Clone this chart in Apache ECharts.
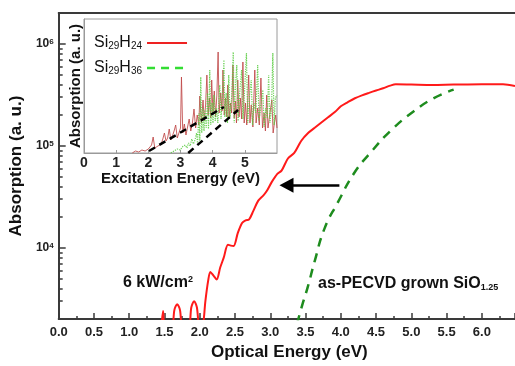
<!DOCTYPE html>
<html>
<head>
<meta charset="utf-8">
<script src="https://cdn.jsdelivr.net/npm/echarts@6/dist/echarts.min.js"></script>
<style>
html, body { margin: 0; padding: 0; background: #fff; }
#chart-container { width: 515px; height: 366px; }
</style>
</head>
<body>
<div id="chart-container"></div>
<script>
// main panel: [optical energy (eV), absorption (a. u.)]
const laserCurve = [
    [1.45, 1500], [1.48, 2400], [1.51, 1500],
    [1.6, 1500], [1.64, 2450], [1.68, 2800], [1.72, 2450], [1.76, 1500],
    [1.84, 1500], [1.88, 2600], [1.92, 3000], [1.96, 2600], [2.0, 1500],
    [2.04, 1600], [2.08, 3000], [2.12, 4800], [2.15, 5800], [2.19, 5400],
    [2.24, 4900], [2.29, 6400], [2.34, 8000], [2.4, 10700], [2.44, 10500],
    [2.48, 10400], [2.54, 14000], [2.6, 17500], [2.65, 18600], [2.7, 19000],
    [2.76, 23000], [2.83, 29000], [2.9, 32500], [2.95, 36000], [3.02, 44000],
    [3.1, 53000], [3.16, 57000], [3.25, 75000], [3.34, 85000], [3.44, 112000],
    [3.54, 134000], [3.63, 150000], [3.72, 168000], [3.82, 190000],
    [3.92, 215000], [4.0, 244000], [4.1, 268000], [4.2, 292000], [4.3, 312000],
    [4.4, 330000], [4.5, 348000], [4.6, 366000], [4.7, 388000], [4.78, 400000],
    [5.0, 398000], [5.3, 395000], [5.6, 398000], [6.0, 400000], [6.3, 400000],
    [6.47, 385000],
];
const pecvdCurve = [
    [3.38, 1800], [3.45, 2700], [3.53, 4100], [3.63, 7400], [3.77, 15500],
    [3.96, 28000], [4.19, 54000], [4.43, 87000], [4.71, 141000],
    [5.04, 219000], [5.32, 293000], [5.6, 355000],
];
const arrowFrom = [3.98, 41000];
const arrowTo = [3.23, 41000];

const yMajorTicks = [1e4, 1e5, 1e6];
const yMinorTicks = [
    3000, 4000, 5000, 6000, 7000, 8000, 9000,
    20000, 30000, 40000, 50000, 60000, 70000, 80000, 90000,
    200000, 300000, 400000, 500000, 600000, 700000, 800000, 900000,
];

// inset: [excitation energy (eV), absorption (a. u.)]
const insetNames = ["Si29H24", "Si29H36"];
const insetLabels = ["{n|Si}{s|29}{n|H}{s|24}", "{n|Si}{s|29}{n|H}{s|36}"];
const si29h24 = [
    [1.5, 0], [1.6, 2], [1.7, 1], [1.8, 3], [1.9, 2], [2.0, 4], [2.05, 3],
    [2.1, 8], [2.15, 16], [2.2, 5], [2.3, 7], [2.4, 9], [2.45, 14], [2.5, 20],
    [2.55, 12], [2.6, 15], [2.65, 24], [2.7, 13], [2.75, 17], [2.8, 22],
    [2.85, 28], [2.9, 15], [2.95, 20], [3.0, 25], [3.03, 76], [3.07, 20],
    [3.12, 29], [3.17, 18], [3.22, 26], [3.27, 34], [3.32, 22], [3.37, 30],
    [3.42, 44], [3.47, 25], [3.52, 38], [3.57, 28], [3.6, 57], [3.65, 30],
    [3.7, 53], [3.74, 32], [3.78, 48], [3.82, 78], [3.86, 38], [3.9, 55],
    [3.94, 35], [3.97, 73], [4.01, 40], [4.05, 62], [4.09, 36], [4.13, 58],
    [4.17, 101], [4.2, 40], [4.25, 60], [4.29, 42], [4.32, 83], [4.36, 38],
    [4.4, 55], [4.44, 36], [4.47, 68], [4.51, 34], [4.55, 50], [4.59, 40],
    [4.63, 88], [4.67, 35], [4.71, 52], [4.74, 30], [4.78, 73], [4.82, 36],
    [4.86, 55], [4.9, 34], [4.94, 91], [4.98, 30], [5.02, 50], [5.06, 28],
    [5.12, 78], [5.16, 30], [5.2, 48], [5.25, 26], [5.31, 83], [5.35, 30],
    [5.4, 45], [5.45, 28], [5.5, 75], [5.55, 25], [5.6, 40], [5.64, 22],
    [5.68, 58], [5.72, 25], [5.78, 40], [5.84, 53], [5.88, 20], [5.92, 30],
    [5.96, 38], [6.0, 25],
];
const si29h36 = [
    [2.7, 0], [2.8, 2], [2.9, 4], [3.0, 3], [3.05, 6], [3.1, 4], [3.15, 8],
    [3.2, 5], [3.25, 10], [3.3, 7], [3.35, 14], [3.4, 9], [3.45, 13], [3.5, 20],
    [3.53, 10], [3.57, 40], [3.6, 12], [3.63, 76], [3.66, 20], [3.7, 45],
    [3.73, 22], [3.76, 43], [3.8, 25], [3.84, 60], [3.87, 24], [3.91, 83],
    [3.94, 28], [3.98, 50], [4.01, 30], [4.04, 58], [4.08, 32], [4.12, 45],
    [4.16, 30], [4.22, 68], [4.26, 34], [4.3, 55], [4.35, 93], [4.38, 36],
    [4.42, 60], [4.46, 30], [4.5, 78], [4.54, 36], [4.59, 55], [4.64, 101],
    [4.67, 30], [4.71, 68], [4.75, 88], [4.79, 32], [4.84, 60], [4.9, 83],
    [4.94, 34], [4.98, 55], [5.05, 100], [5.09, 30], [5.14, 55], [5.2, 73],
    [5.24, 28], [5.29, 50], [5.34, 40], [5.4, 88], [5.44, 32], [5.5, 48],
    [5.56, 63], [5.6, 26], [5.65, 45], [5.7, 35], [5.74, 78], [5.78, 30],
    [5.83, 45], [5.87, 100], [5.91, 28], [5.95, 55], [6.0, 58],
];
const fitLine1 = [[2.02, 2], [4.35, 46]];
const fitLine2 = [[3.24, 0], [4.79, 43]];

const font = "'Liberation Sans', Arial, sans-serif";
const axisColor = "#3a3a3a";

let dom = document.getElementById("chart-container");
let myChart = echarts.init(dom, null, {
    renderer: "canvas",
    useDirtyRect: false,
});
let option;

option = {
    animation: false,
    backgroundColor: "#fff",
    textStyle: { fontFamily: font },
    grid: [
        { left: 56, top: 13, right: 0, bottom: 40 },
        {
            left: 84, top: 19, width: 193, height: 134,
            show: true, backgroundColor: "#fff", borderColor: "#9a9a9a", borderWidth: 1,
        },
    ],
    xAxis: [{
        type: "value",
        gridIndex: 0,
        min: 0,
        max: 6.47,
        interval: 0.5,
        name: "Optical Energy (eV)",
        nameLocation: "middle",
        nameGap: 22,
        nameTextStyle: { fontSize: 17, fontWeight: "bold", color: "#111", padding: [0, 0, 0, 5] },
        axisLine: { lineStyle: { color: axisColor, width: 2 } },
        axisTick: { inside: true, length: 6, lineStyle: { color: axisColor, width: 1.5 } },
        minorTick: { show: true, splitNumber: 2, length: 3, lineStyle: { color: axisColor, width: 1.5 } },
        axisLabel: {
            margin: 7, fontSize: 13, fontWeight: "bold", color: "#222",
            showMaxLabel: false,
            formatter: (v) => v.toFixed(1),
        },
        splitLine: { show: false },
    }, {
        type: "value",
        gridIndex: 0,
        position: "top",
        min: 0,
        max: 6.47,
        axisLine: { lineStyle: { color: axisColor, width: 2 } },
        axisTick: { show: false },
        axisLabel: { show: false },
        splitLine: { show: false },
    }, {
        type: "value",
        gridIndex: 1,
        min: 0,
        max: 6,
        interval: 1,
        name: "Excitation Energy (eV)",
        nameLocation: "middle",
        nameGap: 17,
        nameTextStyle: { fontSize: 15, fontWeight: "bold", color: "#111" },
        axisLine: { lineStyle: { color: "#9a9a9a", width: 1 } },
        axisTick: { inside: true, length: 3, lineStyle: { color: "#9a9a9a" } },
        axisLabel: { margin: 3, fontSize: 14, fontWeight: "bold", color: "#222", showMaxLabel: false },
        splitLine: { show: false },
    }],
    yAxis: [{
        type: "log",
        gridIndex: 0,
        min: 2000,
        max: 2000000,
        name: "Absorption (a. u.)",
        nameLocation: "middle",
        nameGap: 25,
        nameTextStyle: { fontSize: 17, fontWeight: "bold", color: "#111" },
        axisLine: { show: true, lineStyle: { color: axisColor, width: 2 } },
        axisTick: { inside: true, length: 7, lineStyle: { color: axisColor, width: 1.5 } },
        axisLabel: {
            margin: 5,
            showMinLabel: false,
            showMaxLabel: false,
            formatter: (v) => (yMajorTicks.indexOf(v) >= 0 ? "{b|10}{e|" + Math.round(Math.log10(v)) + "}" : ""),
            rich: {
                b: { fontSize: 12, fontWeight: "bold", color: "#222", lineHeight: 12, padding: [4, 0, 0, 0], verticalAlign: "bottom" },
                e: { fontSize: 8, fontWeight: "bold", color: "#222", lineHeight: 8, verticalAlign: "top" },
            },
        },
        splitLine: { show: false },
    }, {
        // minor log ticks (2..9 x 10^n), drawn on a linear axis in log10 space
        type: "value",
        gridIndex: 0,
        position: "left",
        min: Math.log10(2000),
        max: Math.log10(2000000),
        axisLine: { show: false },
        axisTick: {
            inside: true, length: 4,
            customValues: yMinorTicks.map((v) => Math.log10(v)),
            lineStyle: { color: axisColor, width: 1.5 },
        },
        axisLabel: { show: false },
        splitLine: { show: false },
    }, {
        type: "value",
        gridIndex: 1,
        min: 0,
        max: 134,
        name: "Absorption (a. u.)",
        nameLocation: "middle",
        nameGap: 1,
        nameTextStyle: { fontSize: 15, fontWeight: "bold", color: "#111" },
        axisLine: { show: true, lineStyle: { color: "#9a9a9a", width: 1 } },
        axisTick: { show: false },
        axisLabel: { show: false },
        splitLine: { show: false },
    }],
    legend: {
        data: [
            {
                name: insetNames[0],
                itemStyle: { opacity: 0 },
                lineStyle: { color: "#ee2222", width: 2, opacity: 1, type: "solid" },
            },
            {
                name: insetNames[1],
                itemStyle: { opacity: 0 },
                lineStyle: { color: "#33dd33", width: 2.5, opacity: 1, type: [8, 6] },
            },
        ],
        orient: "vertical",
        align: "right",
        left: 89,
        top: 26,
        itemWidth: 40,
        itemHeight: 12,
        itemGap: 5,
        formatter: (name) => insetLabels[insetNames.indexOf(name)],
        textStyle: {
            rich: {
                n: { fontSize: 16, color: "#111", lineHeight: 16, verticalAlign: "top" },
                s: { fontSize: 10, color: "#111", lineHeight: 10, padding: [10, 0, 0, 0], verticalAlign: "bottom" },
            },
        },
    },
    graphic: [{
        type: "text",
        left: 123,
        top: 271,
        style: {
            text: "{a|6 kW/cm}{b|2}",
            rich: {
                a: { fontSize: 16, fontWeight: "bold", fill: "#111", fontFamily: font, lineHeight: 16, padding: [4, 0, 0, 0], verticalAlign: "bottom" },
                b: { fontSize: 9, fontWeight: "bold", fill: "#111", fontFamily: font, lineHeight: 9, verticalAlign: "top" },
            },
        },
    }, {
        type: "text",
        left: 318,
        top: 273,
        style: {
            text: "{a|as-PECVD grown SiO}{b|1.25}",
            rich: {
                a: { fontSize: 16, fontWeight: "bold", fill: "#111", fontFamily: font, lineHeight: 16, verticalAlign: "top" },
                b: { fontSize: 9, fontWeight: "bold", fill: "#111", fontFamily: font, lineHeight: 9, padding: [10, 0, 0, 0], verticalAlign: "bottom" },
            },
        },
    }],
    series: [{
        name: "6 kW/cm2",
        type: "line",
        xAxisIndex: 0,
        yAxisIndex: 0,
        data: laserCurve,
        smooth: 0.3,
        symbol: "none",
        clip: true,
        lineStyle: { color: "#ff1a1a", width: 2 },
        markLine: {
            silent: true,
            symbol: ["none", "triangle"],
            symbolSize: [15, 14],
            label: { show: false },
            lineStyle: { color: "#000", width: 2.5, type: "solid" },
            data: [[{ coord: arrowFrom }, { coord: arrowTo }]],
        },
    }, {
        name: "as-PECVD grown SiO1.25",
        type: "line",
        xAxisIndex: 0,
        yAxisIndex: 0,
        data: pecvdCurve,
        smooth: true,
        symbol: "none",
        clip: true,
        lineStyle: { color: "#1e8c1e", width: 2.5, type: [9, 7] },
    }, {
        name: insetNames[0],
        type: "line",
        xAxisIndex: 2,
        yAxisIndex: 2,
        data: si29h24,
        symbol: "none",
        color: "#ee2222",
        lineStyle: { color: "#c04848", width: 1, opacity: 0.85 },
    }, {
        name: insetNames[1],
        type: "line",
        xAxisIndex: 2,
        yAxisIndex: 2,
        data: si29h36,
        symbol: "none",
        color: "#33dd33",
        lineStyle: { color: "#5ccc44", width: 1.2, type: "dotted", opacity: 0.9 },
    }, {
        name: "fit1",
        type: "line",
        xAxisIndex: 2,
        yAxisIndex: 2,
        data: fitLine1,
        symbol: "none",
        lineStyle: { color: "#000", width: 2.5, type: [7, 5] },
    }, {
        name: "fit2",
        type: "line",
        xAxisIndex: 2,
        yAxisIndex: 2,
        data: fitLine2,
        symbol: "none",
        lineStyle: { color: "#000", width: 2.5, type: [7, 5] },
    }],
};

if (option && typeof option === "object") {
    myChart.setOption(option);
}

window.addEventListener("resize", myChart.resize);
</script>
</body>
</html>
